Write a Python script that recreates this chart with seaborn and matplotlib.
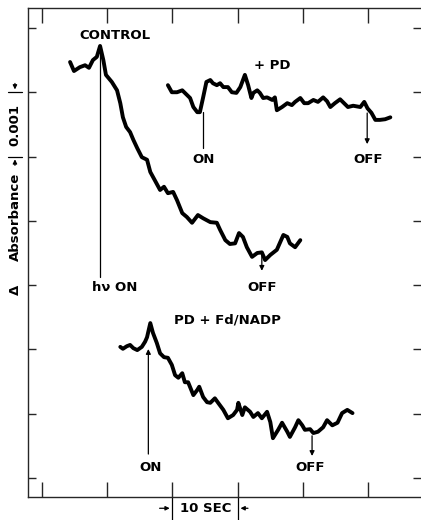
import matplotlib
matplotlib.use("Agg")
import pandas as pd
import matplotlib.pyplot as plt
import seaborn as sns

# time in sec, absorbance change in units of 0.001

# control trace
control_t = [4.3, 4.9, 5.8, 6.6, 7.2, 7.8, 8.4, 8.9, 9.4, 9.8, 10.7, 11.5, 12.0, 12.4,
             12.9, 13.5, 14.0, 14.6, 15.3, 16.1, 16.6, 17.3, 18.1, 18.7, 19.3, 20.1,
             20.7, 21.5, 22.2, 23.0, 23.9, 24.7, 25.8, 26.8, 27.3, 28.1, 28.8, 29.6,
             30.2, 30.8, 31.4, 32.2, 33.0, 33.7, 34.2, 35.0, 36.0, 37.0, 37.6, 38.0,
             38.8, 39.6]
control_a = [6.47, 6.33, 6.39, 6.42, 6.38, 6.50, 6.55, 6.72, 6.50, 6.27, 6.16, 6.03, 5.83,
             5.61, 5.46, 5.38, 5.26, 5.13, 4.99, 4.95, 4.76, 4.63, 4.48, 4.53, 4.43, 4.45,
             4.32, 4.12, 4.06, 3.97, 4.09, 4.04, 3.98, 3.97, 3.86, 3.70, 3.64, 3.65, 3.81,
             3.75, 3.59, 3.44, 3.50, 3.51, 3.39, 3.47, 3.55, 3.78, 3.75, 3.65, 3.59, 3.70]

# + PD trace
pd_t = [19.3, 19.9, 20.7, 21.5, 21.9, 22.7, 23.2, 23.8, 24.2, 24.7, 25.2, 25.8, 26.2,
        26.8, 27.3, 27.8, 28.5, 29.1, 29.8, 30.4, 31.1, 31.6, 32.1, 32.4, 33.0, 33.4,
        33.9, 34.5, 35.3, 35.7, 36.0, 36.8, 37.6, 38.3, 38.8, 39.6, 40.2, 40.8, 41.6,
        42.3, 43.1, 43.7, 44.2, 44.9, 45.7, 46.3, 46.9, 47.7, 48.8, 49.4, 49.9, 50.5,
        51.1, 51.8, 52.6, 53.4]
pd_a = [6.11, 6.00, 6.00, 6.03, 5.99, 5.91, 5.77, 5.69, 5.69, 5.92, 6.16, 6.19, 6.14,
        6.11, 6.14, 6.08, 6.08, 6.00, 5.99, 6.08, 6.27, 6.11, 5.91, 5.99, 6.03, 5.99,
        5.91, 5.92, 5.88, 5.92, 5.72, 5.77, 5.83, 5.80, 5.85, 5.91, 5.83, 5.83, 5.88,
        5.85, 5.92, 5.86, 5.77, 5.83, 5.89, 5.83, 5.77, 5.79, 5.77, 5.85, 5.75, 5.68,
        5.57, 5.57, 5.58, 5.61]

# PD + Fd/NADP trace
fd_t = [12.0, 12.4, 13.0, 13.5, 14.0, 14.6, 15.3, 15.8, 16.1, 16.6, 17.0, 17.6, 18.1,
        18.7, 19.3, 19.9, 20.4, 20.9, 21.5, 21.9, 22.4, 23.2, 23.8, 24.1, 24.7, 25.3,
        25.8, 26.5, 27.0, 27.8, 28.5, 29.3, 29.9, 30.1, 30.7, 31.1, 31.9, 32.4, 33.1,
        33.7, 34.5, 35.0, 35.4, 36.2, 36.8, 37.6, 38.0, 38.8, 39.3, 39.9, 40.3, 41.1,
        41.6, 42.3, 43.1, 43.7, 44.5, 45.3, 46.0, 46.8, 47.6]
fd_a = [2.04, 2.01, 2.05, 2.07, 2.02, 1.99, 2.04, 2.12, 2.19, 2.41, 2.26, 2.10, 1.94,
        1.88, 1.87, 1.76, 1.60, 1.56, 1.63, 1.49, 1.49, 1.29, 1.37, 1.42, 1.26, 1.18,
        1.17, 1.24, 1.17, 1.06, 0.93, 0.98, 1.06, 1.17, 0.98, 1.10, 1.03, 0.95, 1.01,
        0.93, 1.03, 0.87, 0.62, 0.75, 0.86, 0.72, 0.64, 0.79, 0.90, 0.82, 0.75, 0.76,
        0.70, 0.72, 0.79, 0.90, 0.82, 0.86, 1.01, 1.06, 1.01]

x_ticks = [0, 10, 20, 30, 40, 50]
y_ticks = [0, 1, 2, 3, 4, 5, 6, 7]

traces = pd.concat([
    pd.DataFrame({"t": control_t, "A": control_a, "run": "control"}),
    pd.DataFrame({"t": pd_t, "A": pd_a, "run": "pd"}),
    pd.DataFrame({"t": fd_t, "A": fd_a, "run": "fd"}),
])

sns.set_style("ticks")
plt.rcParams['font.family'] = ['DejaVu Sans']

fig = plt.figure(figsize=(4.21, 5.2), dpi=100)
ax = fig.add_axes([0.0665, 0.0442, 0.9335, 0.9404])

# draw each trace
for run in ["control", "pd", "fd"]:
    sub = traces[traces["run"] == run]
    sns.lineplot(data=sub, x="t", y="A", sort=False, color="black", linewidth=2.8,
                 ax=ax, estimator=None)

ax.set_xlim(-2.15, 58.1)
ax.set_ylim(-0.295, 7.31)
ax.set_xticks(x_ticks)
ax.set_yticks(y_ticks)
ax.set_xticklabels([])
ax.set_yticklabels([])
ax.set_xlabel("")
ax.set_ylabel("")
ax.spines["right"].set_visible(False)
for s in ["left", "top", "bottom"]:
    ax.spines[s].set_linewidth(1.0)
ax.tick_params(axis="x", direction="in", length=11, width=1.0, top=True, bottom=True)
ax.tick_params(axis="y", direction="in", length=6, width=1.0, left=True, right=True)

txt = dict(fontsize=9.5, fontweight="bold", ha="center", va="center", color="black")

# labels
ax.text(11.2, 6.89, "CONTROL", **txt)
ax.text(35.3, 6.42, "+ PD", **txt)
ax.text(28.4, 2.46, "PD + Fd/NADP", **txt)

# control: h-nu on, off
ax.plot([8.9, 8.9], [6.69, 3.13], color="black", lw=0.9)
ax.text(11.2, 2.97, "hν ON", **txt)
ax.annotate("", xy=(33.7, 3.18), xytext=(33.7, 3.51),
            arrowprops=dict(arrowstyle="-|>", color="black", lw=0.9, mutation_scale=7))
ax.text(33.7, 2.97, "OFF", **txt)

# + PD on, off
ax.plot([24.7, 24.7], [5.69, 5.13], color="black", lw=0.9)
ax.text(24.8, 4.95, "ON", **txt)
ax.annotate("", xy=(49.85, 5.15), xytext=(49.85, 5.72),
            arrowprops=dict(arrowstyle="-|>", color="black", lw=0.9, mutation_scale=7))
ax.text(50.0, 4.95, "OFF", **txt)

# PD + Fd/NADP on, off
ax.annotate("", xy=(16.3, 2.05), xytext=(16.3, 0.33),
            arrowprops=dict(arrowstyle="-|>", color="black", lw=0.9, mutation_scale=7))
ax.text(16.6, 0.17, "ON", **txt)
ax.annotate("", xy=(41.4, 0.30), xytext=(41.4, 0.70),
            arrowprops=dict(arrowstyle="-|>", color="black", lw=0.9, mutation_scale=7))
ax.text(41.1, 0.17, "OFF", **txt)

# time scale bar under the axis
ax.plot([20, 20], [-0.3, -0.7], color="black", lw=0.9, clip_on=False)
ax.plot([30, 30], [-0.3, -0.7], color="black", lw=0.9, clip_on=False)
ax.annotate("", xy=(20, -0.47), xytext=(17.6, -0.47), annotation_clip=False,
            arrowprops=dict(arrowstyle="-|>", color="black", lw=0.9, mutation_scale=6))
ax.annotate("", xy=(30, -0.47), xytext=(32.0, -0.47), annotation_clip=False,
            arrowprops=dict(arrowstyle="-|>", color="black", lw=0.9, mutation_scale=6))
ax.text(25.1, -0.47, "10 SEC", clip_on=False, **txt)

# absorbance scale bar on the left
ax.plot([-5.2, -3.1], [6, 6], color="black", lw=0.9, clip_on=False)
ax.plot([-5.2, -3.1], [5, 5], color="black", lw=0.9, clip_on=False)
ax.annotate("", xy=(-4.15, 6), xytext=(-4.15, 6.18), annotation_clip=False,
            arrowprops=dict(arrowstyle="-|>", color="black", lw=0.9, mutation_scale=6))
ax.annotate("", xy=(-4.15, 5), xytext=(-4.15, 4.82), annotation_clip=False,
            arrowprops=dict(arrowstyle="-|>", color="black", lw=0.9, mutation_scale=6))
ax.text(-4.15, 5.49, "0.001", rotation=90, clip_on=False, **txt)
ax.text(-4.15, 4.06, "Absorbance", rotation=90, clip_on=False, **txt)
ax.text(-4.15, 2.92, "Δ", rotation=90, clip_on=False, **txt)

fig.savefig("out.png", dpi=100)
